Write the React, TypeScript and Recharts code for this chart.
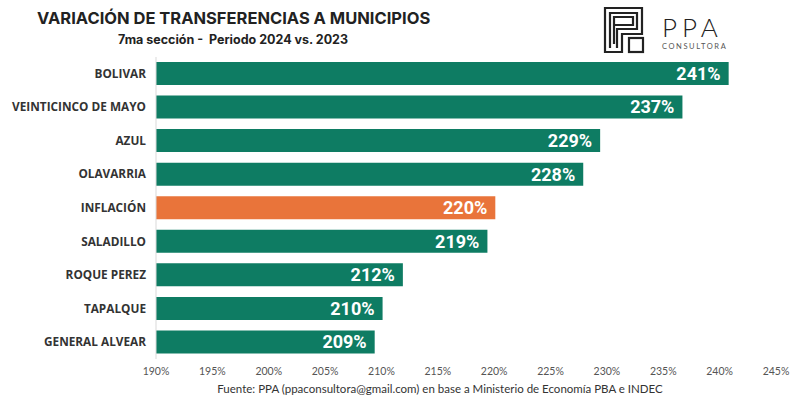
import { Bar, BarChart, Cell, LabelList, XAxis, YAxis } from "recharts";

const municipios = [
  "BOLIVAR",
  "VEINTICINCO DE MAYO",
  "AZUL",
  "OLAVARRIA",
  "INFLACIÓN",
  "SALADILLO",
  "ROQUE PEREZ",
  "TAPALQUE",
  "GENERAL ALVEAR",
];
const variacion = [240.8, 236.7, 229.4, 227.9, 220.1, 219.4, 211.9, 210.1, 209.4];
const xTicks = [190, 195, 200, 205, 210, 215, 220, 225, 230, 235, 240, 245];

const GREEN = "#0e7c63";
const ORANGE = "#e9743a";

const rows = municipios.map((name, i) => ({ name, value: variacion[i] }));

function Logo() {
  return (
    <svg
      width={140}
      height={56}
      style={{ position: "absolute", left: 600, top: 4 }}
    >
      <g fill="none" stroke="#222" strokeWidth={2.2}>
        <path d="M5 48 V4 H42 V30 H22 V48 Z" />
        <path d="M10 44 V9 H37 V25 H17 V44" />
        <path d="M14 40 V13 H33 V21 H14" />
        <rect x={29} y={34} width={14} height={14} />
      </g>
      <text
        x={62}
        y={33}
        fontFamily="Lato, sans-serif"
        fontSize={26}
        fontWeight={300}
        letterSpacing={5}
        fill="#222"
      >
        PPA
      </text>
      <text
        x={62}
        y={45}
        fontFamily="Lato, sans-serif"
        fontSize={7.5}
        letterSpacing={1.6}
        fill="#555"
      >
        CONSULTORA
      </text>
    </svg>
  );
}

function NameTick(props: any) {
  const { x, y, payload } = props;
  return (
    <text
      x={x}
      y={y}
      dy={4}
      textAnchor="end"
      fontSize={11.8}
      fontWeight={700}
      fill="#333"
      fontFamily="Open Sans, sans-serif"
    >
      {payload.value}
    </text>
  );
}

export default function App() {
  return (
    <div
      style={{
        position: "absolute",
        left: 0,
        top: 0,
        width: 800,
        height: 403,
        background: "#fff",
        fontFamily: "Inter, sans-serif",
      }}
    >
      <div
        style={{
          position: "absolute",
          left: 37,
          top: 8,
          fontSize: 16.5,
          fontWeight: 700,
          color: "#222",
          whiteSpace: "nowrap",
        }}
      >
        VARIACIÓN DE TRANSFERENCIAS A MUNICIPIOS
      </div>
      <div
        style={{
          position: "absolute",
          left: 118,
          top: 32,
          fontSize: 12.5,
          fontWeight: 700,
          color: "#222",
          whiteSpace: "nowrap",
        }}
      >
        7ma sección -&nbsp; Periodo 2024 vs. 2023
      </div>
      <Logo />

      <BarChart
        width={800}
        height={403}
        data={rows}
        layout="vertical"
        barSize={23}
        margin={{ top: 57, right: 24, bottom: 22, left: 0 }}
        style={{ position: "absolute", left: 0, top: 0 }}
      >
        <XAxis
          type="number"
          domain={[190, 245]}
          ticks={xTicks}
          interval={0}
          height={22}
          tickFormatter={(v) => `${v}%`}
          axisLine={false}
          tickLine={false}
          tick={{ fontSize: 10.5, fill: "#555", fontFamily: "Lato, sans-serif" }}
          tickMargin={3}
        />
        <YAxis
          type="category"
          dataKey="name"
          width={156}
          axisLine={{ stroke: "#d9d9d9" }}
          tickLine={false}
          tickMargin={4}
          tick={<NameTick />}
        />
        <Bar dataKey="value" isAnimationActive={false}>
          {rows.map((r) => (
            <Cell key={r.name} fill={r.name === "INFLACIÓN" ? ORANGE : GREEN} />
          ))}
          <LabelList
            dataKey="value"
            position="insideRight"
            offset={8}
            formatter={(v: any) => `${Math.round(Number(v))}%`}
            style={{
              fill: "#fff",
              fontSize: 18,
              fontWeight: 700,
              fontFamily: "Roboto, sans-serif",
            }}
          />
        </Bar>
      </BarChart>

      <div
        style={{
          position: "absolute",
          left: 0,
          width: 880,
          top: 382,
          textAlign: "center",
          fontSize: 11.5,
          color: "#333",
          fontFamily: "Lato, sans-serif",
          whiteSpace: "nowrap",
        }}
      >
        Fuente: PPA (ppaconsultora@gmail.com) en base a Ministerio de Economía PBA e INDEC
      </div>
    </div>
  );
}
